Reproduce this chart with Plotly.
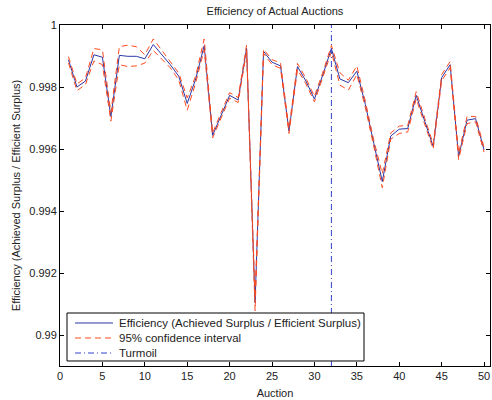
import plotly.graph_objects as go

auction = list(range(1, 51))
efficiency = [0.99888, 0.99800, 0.99819, 0.99904, 0.99896, 0.99704, 0.99902, 0.99899, 0.99899, 0.99891,
              0.99937, 0.99904, 0.99872, 0.99835, 0.99747, 0.99826, 0.99933, 0.99644, 0.99708, 0.99773,
              0.99758, 0.99925, 0.99104, 0.99915, 0.99880, 0.99868, 0.99658, 0.99866, 0.99819, 0.99761,
              0.99840, 0.99924, 0.99826, 0.99814, 0.99851, 0.99744, 0.99618, 0.99495, 0.99642, 0.99664,
              0.99666, 0.99773, 0.99690, 0.99608, 0.99830, 0.99872, 0.99576, 0.99693, 0.99698, 0.99597]
ci_upper = [0.99898, 0.99810, 0.99829, 0.99924, 0.99920, 0.99718, 0.99930, 0.99935, 0.99930, 0.99904,
            0.99955, 0.99918, 0.99882, 0.99845, 0.99765, 0.99836, 0.99955, 0.99652, 0.99718, 0.99782,
            0.99766, 0.99935, 0.99120, 0.99922, 0.99888, 0.99878, 0.99666, 0.99876, 0.99828, 0.99770,
            0.99848, 0.99934, 0.99846, 0.99822, 0.99868, 0.99754, 0.99628, 0.99520, 0.99652, 0.99674,
            0.99676, 0.99785, 0.99700, 0.99616, 0.99840, 0.99882, 0.99586, 0.99705, 0.99705, 0.99605]
ci_lower = [0.99878, 0.99788, 0.99808, 0.99884, 0.99872, 0.99690, 0.99872, 0.99866, 0.99868, 0.99877,
            0.99918, 0.99890, 0.99862, 0.99823, 0.99725, 0.99814, 0.99920, 0.99636, 0.99698, 0.99764,
            0.99750, 0.99915, 0.99078, 0.99908, 0.99872, 0.99860, 0.99650, 0.99856, 0.99810, 0.99752,
            0.99832, 0.99914, 0.99806, 0.99790, 0.99840, 0.99734, 0.99608, 0.99475, 0.99632, 0.99650,
            0.99655, 0.99762, 0.99680, 0.99600, 0.99820, 0.99862, 0.99566, 0.99682, 0.99688, 0.99590]
turmoil_auction = 32
y_range = [0.989, 1.0]
x_range = [0, 50.7]
legend_labels = ["Efficiency (Achieved Surplus / Efficient Surplus)",
                 "95% confidence interval", "Turmoil"]

BLUE = "#2a37a6"
RED = "#ff4a1f"
TURMOIL = "#3344cc"
FONT = "Liberation Sans"
DASH_CI = "6px,4px"
DASH_T = "6px,3px,1px,3px"

fig = go.Figure()
fig.add_trace(go.Scatter(x=auction, y=efficiency, mode="lines",
                         line=dict(color=BLUE, width=1), name=legend_labels[0]))
fig.add_trace(go.Scatter(x=auction, y=ci_upper, mode="lines",
                         line=dict(color=RED, width=1, dash=DASH_CI), name=legend_labels[1]))
fig.add_trace(go.Scatter(x=auction, y=ci_lower, mode="lines",
                         line=dict(color=RED, width=1, dash=DASH_CI), name=legend_labels[1]))
fig.add_trace(go.Scatter(x=[turmoil_auction, turmoil_auction], y=y_range, mode="lines",
                         line=dict(color=TURMOIL, width=1, dash=DASH_T), name=legend_labels[2]))

# Compact MATLAB-style legend box (plot-area paper coordinates)
box = dict(x0=0.0163, x1=0.707, y0=0.0147, y1=0.1554)
row_y = [0.1261, 0.0821, 0.0381]
sample_x = [0.0349, 0.1233]
text_x = 0.1326
styles = [dict(color=BLUE, width=1), dict(color=RED, width=1, dash=DASH_CI),
          dict(color=TURMOIL, width=1, dash=DASH_T)]

fig.add_shape(type="rect", xref="paper", yref="paper", **box,
              line=dict(color="black", width=1), fillcolor="white", layer="above")
for lbl, ry, st in zip(legend_labels, row_y, styles):
    fig.add_shape(type="line", xref="paper", yref="paper", x0=sample_x[0], x1=sample_x[1],
                  y0=ry, y1=ry, line=st, layer="above")
    fig.add_annotation(xref="paper", yref="paper", x=text_x, y=ry, text=lbl, showarrow=False,
                       xanchor="left", yanchor="middle", font=dict(size=11.5, color="#222222"))

fig.update_layout(
    width=492, height=400,
    margin=dict(l=60, r=2, t=25, b=34),
    paper_bgcolor="white", plot_bgcolor="white",
    font=dict(family=FONT, size=11, color="#222222"),
    title=dict(text="Efficiency of Actual Auctions", x=(60 + 490) / 2 / 492, xanchor="center",
               y=1 - 11 / 400, yanchor="middle", font=dict(size=11, color="#222222")),
    showlegend=False,
    xaxis=dict(range=x_range, tickmode="linear", tick0=0, dtick=5, automargin=False,
               showgrid=False, zeroline=False, showline=True, linecolor="black", linewidth=1,
               mirror="ticks", ticks="inside", ticklen=4, tickcolor="black",
               title=dict(text="Auction", standoff=8, font=dict(size=11))),
    yaxis=dict(range=y_range, tickmode="linear", tick0=0.99, dtick=0.002, automargin=False,
               showgrid=False, zeroline=False, showline=True, linecolor="black", linewidth=1,
               mirror="ticks", ticks="inside", ticklen=4, tickcolor="black",
               title=dict(text="Efficiency (Achieved Surplus / Efficient Surplus)", standoff=6,
                          font=dict(size=11))),
)

fig.write_html("out.html", config={"displayModeBar": False},
               post_script="document.body.style.margin='0';")
